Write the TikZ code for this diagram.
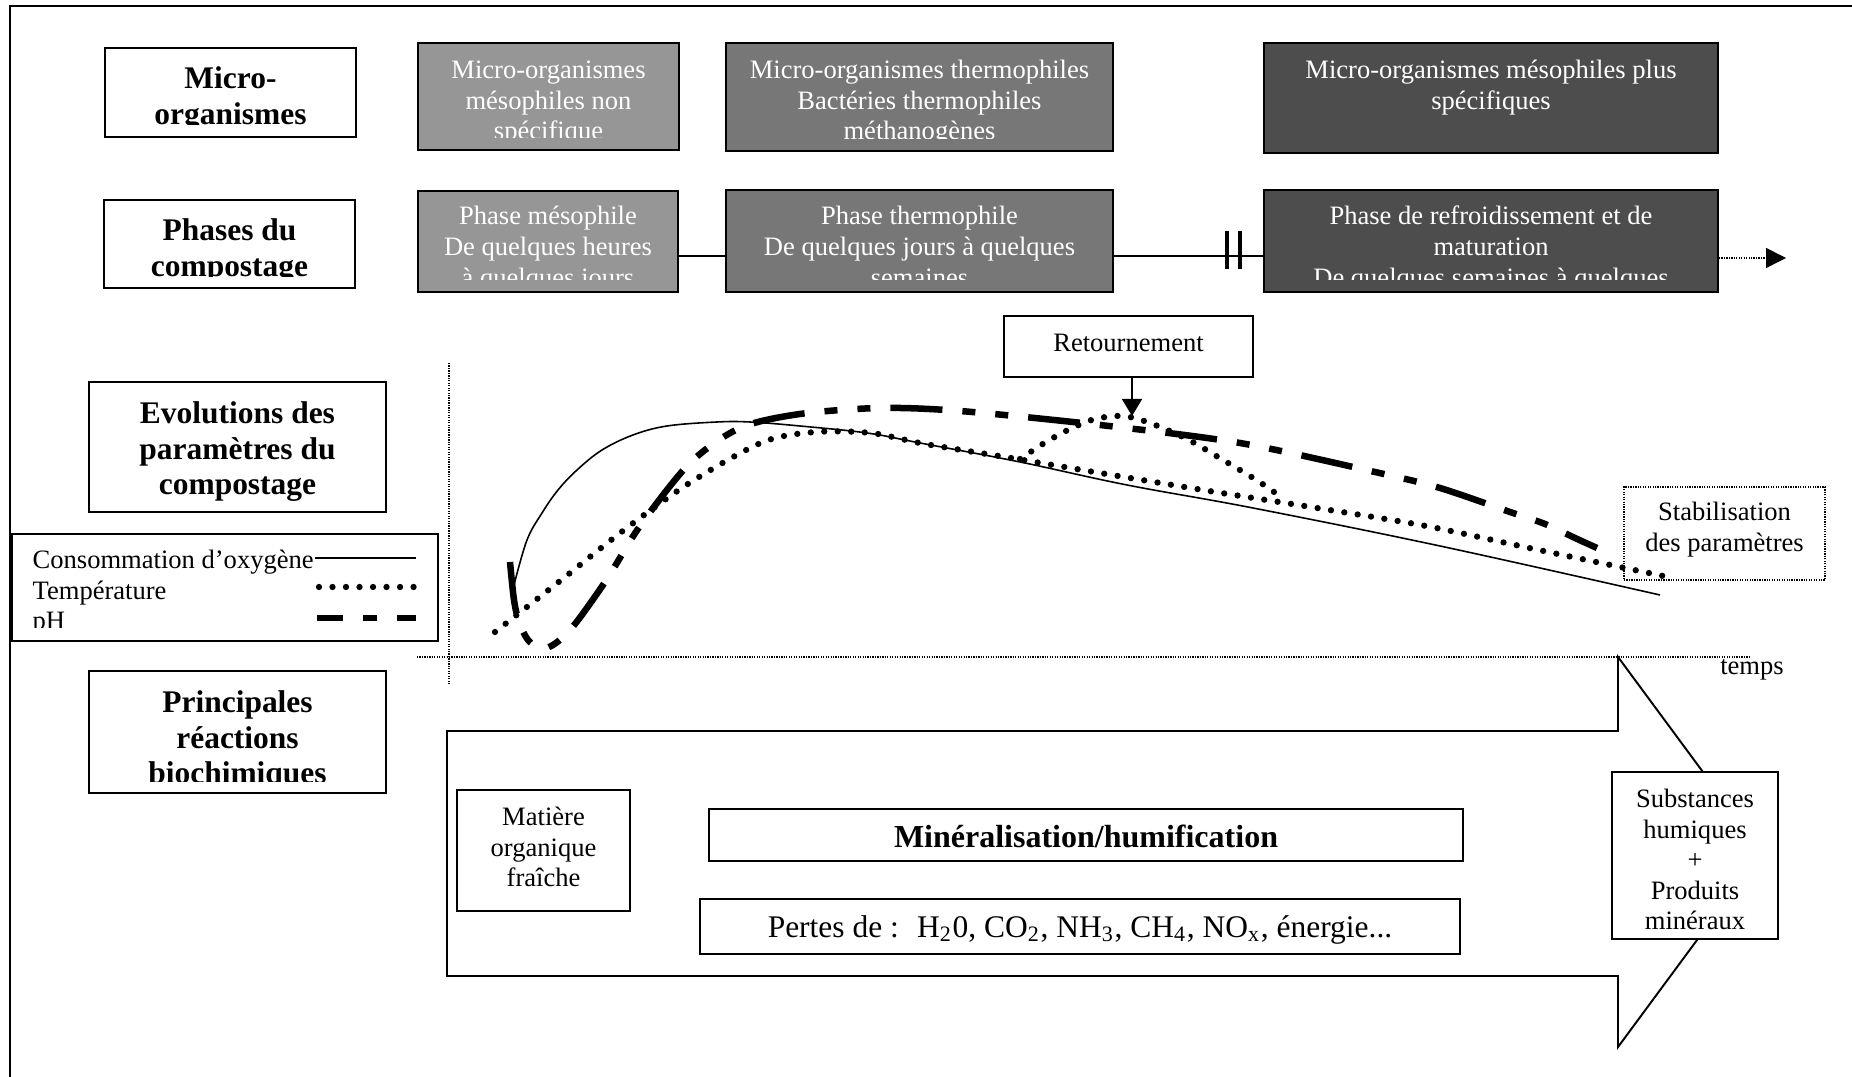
\documentclass[tikz,border=0pt]{standalone}
\usepackage{fontspec}
\setmainfont{Liberation Serif}
\usetikzlibrary{arrows.meta,fit}
\definecolor{gA}{RGB}{150,150,150}
\definecolor{gB}{RGB}{119,119,119}
\definecolor{gC}{RGB}{77,77,77}
\newcommand\fReg{\fontsize{7.55}{8.68}\selectfont}
\newcommand\fHead{\fontsize{8.95}{10.1}\selectfont\bfseries}
\newcommand\fBig{\fontsize{9.1}{10.4}\selectfont}
\newcommand\fPer{\fontsize{8.95}{10.4}\selectfont}
\begin{document}
\begin{tikzpicture}[x=0.01cm,y=-0.01cm,
  box/.style={draw=black,line width=0.55pt,inner sep=0pt},
  txt/.style={inner sep=0pt,align=center,font=\fReg},
  wtxt/.style={txt,text=white},
  hdtxt/.style={inner sep=0pt,align=center,font=\fHead},
  fine dots/.style={line width=0.3pt,dash pattern=on 0.35pt off 0.35pt},
  o2/.style={line width=0.45pt},
  temp/.style={line width=0.063cm,line cap=round,dash pattern=on 0pt off 0.135cm},
  ph/.style={line width=0.065cm,dash pattern=on 0.52cm off 0.2cm on 0.13cm off 0.2cm on 0.13cm off 0.2cm},
]
\useasboundingbox (0,0) rectangle (1852,1077);
% frame
\draw[line width=0.55pt] (10,1077) -- (10,6) -- (1852,6);

% axes
\draw[fine dots] (449,363) -- (449,685);
\draw[fine dots] (417,657) -- (1750,657);
\node[txt,anchor=base] (temps) at (1752,675) {temps};

% big arrow
\draw[line width=0.55pt] (447,731) -- (1618,731) -- (1618,657) -- (1762,852) -- (1618,1047) -- (1618,976) -- (447,976) -- cycle;

% headings
\node[box,fit={(105,48)(356,137)}] (hmicro) {};
\begin{scope}
\clip (105,48) rectangle (356,125);
\node[hdtxt,anchor=north] (hmicrot) at (230.5,63.15) {\strut Micro-\\organismes};
\end{scope}
\node[box,fit={(104,200)(355,288)}] (hphases) {};
\begin{scope}
\clip (104,200) rectangle (355,277);
\node[hdtxt,anchor=north] (hphasest) at (229.5,215.15) {\strut Phases du\\compostage};
\end{scope}
\node[box,fit={(89,382)(386,512)}] (hevol) {};
\node[hdtxt,anchor=north] (hevolt) at (237.5,398.15) {\strut Evolutions des\\paramètres du\\compostage};
\node[box,fit={(89,671)(386,793)}] (hprinc) {};
\begin{scope}
\clip (89,671) rectangle (386,782);
\node[hdtxt,anchor=north] (hprinct) at (237.5,687.15) {\strut Principales\\réactions\\biochimiques};
\end{scope}

% micro-organisms row
\node[box,fill=gA,fit={(418,43)(679,150)}] (m1) {};
\begin{scope}
\clip (418,43) rectangle (679,137.5);
\node[wtxt,anchor=north] (m1t) at (548.5,56.65) {\strut Micro-organismes\\mésophiles non\\spécifique};
\end{scope}
\node[box,fill=gB,fit={(726,43)(1113,151)}] (m2) {};
\begin{scope}
\clip (726,43) rectangle (1113,139);
\node[wtxt,anchor=north] (m2t) at (919.5,56.65) {\strut Micro-organismes thermophiles\\Bactéries thermophiles\\méthanogènes};
\end{scope}
\node[box,fill=gC,fit={(1264,43)(1718,153)}] (m3) {};
\node[wtxt,anchor=north] (m3t) at (1491,56.65) {\strut Micro-organismes mésophiles plus\\spécifiques};

% phases row
\coordinate (lvl) at (0,256);
\coordinate (lvlb) at (0,258);
\node[box,fill=gA,fit={(418,191)(678,292)}] (p1) {};
\node[box,fill=gB,fit={(726,190)(1113,292)}] (p2) {};
\node[box,fill=gC,fit={(1264,190)(1718,292)}] (p3) {};
\draw[line width=0.45pt] (p1.east |- lvl) -- (p2.west |- lvl);
\draw[line width=0.45pt] (p2.east |- lvl) -- (p3.west |- lvl);
\draw[line width=1.4pt] (1227,231) -- (1227,269);
\draw[line width=1.4pt] (1240,231) -- (1240,269);
\coordinate (phend) at (1786,258);
\draw[line width=0.4pt,dash pattern=on 0.35pt off 0.35pt,-{Triangle[length=0.2cm,width=0.2cm]}] (p3.east |- lvlb) -- (phend);
\begin{scope}
\clip (418,191) rectangle (1718,280);
\node[wtxt,anchor=north] (p1t) at (548,202.9) {\strut Phase mésophile\\De quelques heures\\à quelques jours};
\node[wtxt,anchor=north] (p2t) at (919.5,202.9) {\strut Phase thermophile\\De quelques jours à quelques\\semaines};
\node[wtxt,anchor=north] (p3t) at (1491,202.9) {\strut Phase de refroidissement et de\\maturation\\De quelques semaines à quelques};
\end{scope}

% curves
\draw[o2] plot[smooth,tension=0.6] coordinates {(514,585) (527,540) (542,513) (558,490) (577,470) (602,450) (633,435) (667,426) (717,422) (750,422) (800,426) (867,433) (920,443) (1020,462) (1127,485) (1253,508) (1440,546) (1660,595)};
\draw[ph] plot[smooth] coordinates {(510,562) (514,600) (519,622) (528,640) (541,649) (556,643) (575,624) (607,579) (640,526) (690,463) (740,428) (800,414) (880,408) (960,411) (1100,425) (1240,443) (1375,472) (1440,488) (1510,512) (1545,524) (1575,538) (1597,548)};
\draw[temp] plot[smooth] coordinates {(495,632) (560,581) (624,530) (691,482) (763,442) (816,432) (871,433) (925,444) (1005,457) (1100,473) (1209,491) (1317,508) (1426,526) (1534,549) (1668,577)};
\draw[temp] plot[smooth] coordinates {(1020,459) (1046,442) (1070,429) (1095,419) (1123,416) (1150,423) (1187,439) (1223,460) (1258,481) (1281,497)};

% retournement
\node[box,fill=white,fit={(1004,316)(1253,377)}] (ret) {};
\node[txt,anchor=base] (rett) at (1128.5,352) {Retournement};
\coordinate (rettip) at (1132,416);
\draw[line width=0.45pt,-{Triangle[length=0.17cm,width=0.2cm]}] (ret.south -| rettip) -- (rettip);

% stabilisation
\node[draw,line width=0.4pt,dash pattern=on 0.35pt off 0.35pt,inner sep=0pt,fit={(1624,487)(1825,580)}] (stab) {};
\node[txt,anchor=north] (stabt) at (1724.5,498.65) {\strut Stabilisation\\des paramètres};

% legend
\node[box,fill=white,fit={(12,534)(438,641)}] (leg) {};
\begin{scope}
\clip (12,534) rectangle (438,628);
\node[txt,align=left,anchor=north west] (legt) at (32,546.65) {\strut Consommation d’oxygène\\Température\\pH};
\end{scope}
\draw[o2] (315,558) -- (416,558);
\draw[temp] (319,587) -- (416,587);
\draw[line width=0.065cm,dash pattern=on 0.26cm off 0.2cm on 0.14cm off 0.2cm on 0.2cm] (317,618) -- (416,618);

% reactions
\node[box,fill=white,fit={(457,790)(630,911)}] (mat) {};
\node[txt,anchor=north] (matt) at (543.5,803.65) {\strut Matière\\organique\\fraîche};
\node[box,fill=white,fit={(709,809)(1463,861)}] (min) {};
\node[inner sep=0pt,font={\fBig\bfseries},anchor=base] (mint) at (1086,848) {Minéralisation/humification};
\node[box,fill=white,fit={(700,899)(1460,954)}] (pertes) {};
\node[inner sep=0pt,font=\fPer,anchor=base] (pertest) at (1080,938) {Pertes de :~ H\textsubscript{2}0, CO\textsubscript{2}, NH\textsubscript{3}, CH\textsubscript{4}, NO\textsubscript{x}, énergie...};
\node[box,fill=white,fit={(1612,772)(1778,939)}] (subst) {};
\node[txt,anchor=north] (substt) at (1695,785.65) {\strut Substances\\humiques\\+\\Produits\\minéraux};
\end{tikzpicture}
\end{document}
